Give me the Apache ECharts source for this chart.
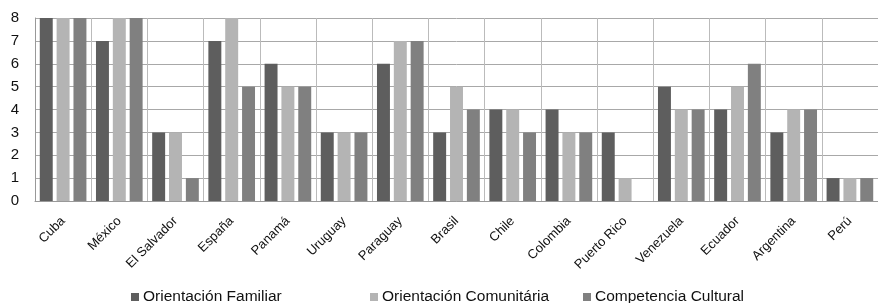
<!DOCTYPE html>
<html>
<head>
<meta charset="utf-8">
<script src="https://cdn.jsdelivr.net/npm/echarts@6/dist/echarts.min.js"></script>
<style>
  html, body { margin: 0; padding: 0; background: #fff; }
  #chart { width: 878px; height: 303px; }
</style>
</head>
<body>
<div id="chart"></div>
<script>
const paises = ['Cuba', 'México', 'El Salvador', 'España', 'Panamá', 'Uruguay', 'Paraguay', 'Brasil', 'Chile', 'Colombia', 'Puerto Rico', 'Venezuela', 'Ecuador', 'Argentina', 'Perú']
const familiar = [8, 7, 3, 7, 6, 3, 6, 3, 4, 4, 3, 5, 4, 3, 1]
const comunitaria = [8, 8, 3, 8, 5, 3, 7, 5, 4, 3, 1, 4, 5, 4, 1]
const cultural = [8, 8, 1, 5, 5, 3, 7, 4, 3, 3, 0, 4, 6, 4, 1]
const nombres = ['Orientación Familiar', 'Orientación Comunitária', 'Competencia Cultural']
const colores = ['#5e5e5e', '#b4b4b4', '#808080']

const valores = [familiar, comunitaria, cultural]
const series = nombres.map((n, i) => ({
  type: 'bar',
  name: n,
  data: valores[i],
  barGap: '30%',
  barCategoryGap: '17%',
  itemStyle: { color: colores[i] }
}))

// posiciones de la leyenda, como en el original (espaciado desigual)
const legendLeft = [126, 365, 578]
const legends = nombres.map((n, i) => ({
  data: [n],
  left: legendLeft[i],
  top: 284,
  icon: 'rect',
  itemWidth: 8,
  itemHeight: 8,
  itemGap: 0,
  selectedMode: false,
  textStyle: { fontFamily: 'Liberation Sans', fontSize: 15.5, color: '#111', padding: [0, 0, 0, -1] }
}))

const option = {
  animation: false,
  color: colores,
  textStyle: { fontFamily: 'Liberation Sans' },
  legend: legends,
  grid: { left: 35, right: 0, top: 18, bottom: 102 },
  xAxis: {
    type: 'category',
    data: paises,
    axisLine: { show: true, lineStyle: { color: '#999', width: 1 } },
    axisTick: { show: false },
    splitLine: { show: true, lineStyle: { color: '#bbb', width: 1 } },
    axisLabel: { rotate: 45, interval: 0, fontSize: 13, color: '#111', margin: 18 }
  },
  yAxis: {
    type: 'value',
    min: 0,
    max: 8,
    interval: 1,
    axisLine: { show: true, lineStyle: { color: '#999' } },
    axisTick: { show: false },
    splitLine: { lineStyle: { color: '#a8a8a8', width: 1 } },
    axisLabel: { fontSize: 15, color: '#111', margin: 16 }
  },
  series: series
}

const myChart = echarts.init(document.getElementById('chart'))
myChart.setOption(option)
window.addEventListener('resize', () => {
  myChart.resize()
})
</script>
</body>
</html>
